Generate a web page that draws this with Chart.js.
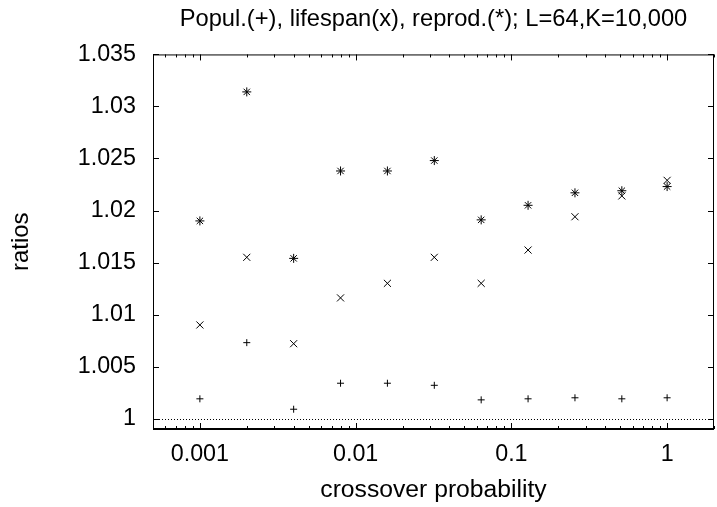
<!DOCTYPE html>
<html>
<head>
<meta charset="utf-8">
<script src="https://cdn.jsdelivr.net/npm/chart.js@4/dist/chart.umd.min.js"></script>
<style>
  html, body { margin: 0; padding: 0; background: #fff; overflow: hidden; }
</style>
</head>
<body>
<canvas id="myChart" width="720" height="507"></canvas>
<script>
  const crossover = [0.001, 0.002, 0.004, 0.008, 0.016, 0.032, 0.064, 0.128, 0.256, 0.512, 1];
  const popul = [1.0019, 1.0073, 1.0009, 1.0034, 1.0034, 1.0032, 1.0018, 1.0019, 1.0020, 1.0019, 1.0020];
  const lifespan = [1.0090, 1.0155, 1.0072, 1.0116, 1.0130, 1.0155, 1.0130, 1.0162, 1.0194, 1.0214, 1.0229];
  const reprod = [1.0190, 1.0314, 1.0154, 1.0238, 1.0238, 1.0248, 1.0191, 1.0205, 1.0217, 1.0219, 1.0223];

  const xTicks = [0.001, 0.01, 0.1, 1];
  const yTicks = [1, 1.005, 1.01, 1.015, 1.02, 1.025, 1.03, 1.035];
  const refLine = 1;

  const font = 'Liberation Sans, Arial, sans-serif';
  Chart.defaults.color = '#000';
  Chart.defaults.font.family = font;

  const points = (ys) => crossover.map((x, i) => ({ x: x, y: ys[i] }));

  // gnuplot style frame: box, inward ticks, dotted line at y=1
  const frame = {
    id: 'frame',
    beforeDatasetsDraw(chart) {
      const { ctx, chartArea: a, scales: { x, y } } = chart;
      const line = (x1, y1, x2, y2) => {
        ctx.beginPath();
        ctx.moveTo(x1, y1);
        ctx.lineTo(x2, y2);
        ctx.stroke();
      };
      ctx.save();
      ctx.strokeStyle = '#000';
      ctx.lineWidth = 1;

      const yr = Math.round(y.getPixelForValue(refLine)) + 0.5;
      ctx.setLineDash([1, 2]);
      line(a.left, yr, a.right, yr);
      ctx.setLineDash([]);

      line(a.left + 0.5, a.top, a.left + 0.5, a.bottom);
      line(a.left, a.top + 0.5, a.right, a.top + 0.5);
      line(a.right - 0.5, a.top, a.right - 0.5, a.bottom);
      ctx.lineWidth = 2;
      line(a.left, a.bottom, a.right, a.bottom);
      ctx.lineWidth = 1;

      yTicks.forEach(v => {
        const p = Math.round(y.getPixelForValue(v)) + 0.5;
        line(a.left, p, a.left + 6, p);
        line(a.right - 6, p, a.right, p);
      });

      for (let d = -4; d <= 0; d++) {
        for (let m = 1; m <= 9; m++) {
          const v = m * Math.pow(10, d);
          if (v < x.min || v > x.max) continue;
          const p = Math.round(x.getPixelForValue(v)) + 0.5;
          const len = m === 1 ? 6 : 3;
          line(p, a.bottom, p, a.bottom - len);
          line(p, a.top, p, a.top + len);
        }
      }
      ctx.restore();
    }
  };

  const data = {
    datasets: [
      {
        label: 'Popul.',
        data: points(popul),
        pointStyle: 'cross',
        pointRadius: 3.5,
        borderColor: '#000',
        borderWidth: 1
      },
      {
        label: 'lifespan',
        data: points(lifespan),
        pointStyle: 'crossRot',
        pointRadius: 5,
        borderColor: '#000',
        borderWidth: 1
      },
      {
        label: 'reprod.',
        data: points(reprod),
        pointStyle: 'star',
        pointRadius: 4.5,
        borderColor: '#000',
        borderWidth: 1
      }
    ]
  };

  const config = {
    type: 'scatter',
    data: data,
    options: {
      responsive: false,
      animation: false,
      layout: { padding: 0 },
      plugins: {
        legend: { display: false },
        tooltip: { enabled: false },
        title: {
          display: true,
          text: 'Popul.(+), lifespan(x), reprod.(*); L=64,K=10,000',
          fullSize: false,
          color: '#000',
          font: { size: 23.7, weight: 'normal', family: font },
          padding: { top: 5, bottom: 21 }
        }
      },
      scales: {
        x: {
          type: 'logarithmic',
          min: 0.0005,
          max: 2,
          afterBuildTicks: (s) => { s.ticks = xTicks.map(v => ({ value: v })); },
          afterFit: (s) => { s.height = 78; },
          grid: { display: false, drawTicks: false },
          border: { display: false },
          ticks: {
            autoSkip: false,
            maxRotation: 0,
            padding: 12,
            font: { size: 23.3 },
            callback: (v) => String(v)
          },
          title: {
            display: true,
            text: 'crossover probability',
            font: { size: 24.7 },
            padding: { top: 0, bottom: 2 }
          }
        },
        y: {
          min: 0.999,
          max: 1.035,
          afterBuildTicks: (s) => { s.ticks = yTicks.map(v => ({ value: v })); },
          afterFit: (s) => { s.width = 153; },
          grid: { display: false, drawTicks: false },
          border: { display: false },
          ticks: {
            padding: 17,
            font: { size: 23.3 },
            callback: (v) => String(v)
          },
          title: {
            display: true,
            text: 'ratios',
            font: { size: 24 },
            padding: { top: 7, bottom: 0 }
          }
        }
      }
    },
    plugins: [frame]
  };

  const myChart = new Chart(document.getElementById('myChart'), config);
</script>
</body>
</html>
